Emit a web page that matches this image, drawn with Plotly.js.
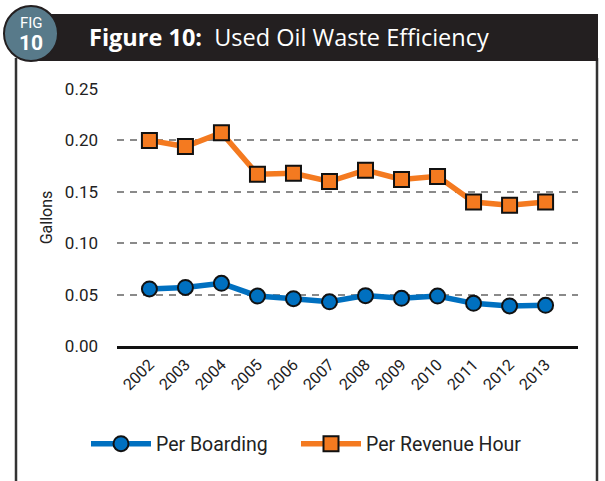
<!DOCTYPE html>
<html>
<head>
<meta charset="utf-8">
<script src="https://cdn.plot.ly/plotly-3.0.1.min.js"></script>
<style>
  body { margin: 0; background: #fff; }
  #chart { width: 605px; height: 481px; }
</style>
</head>
<body>
<div id="chart"></div>
<script>
// Chart data
const years = ['2002', '2003', '2004', '2005', '2006', '2007', '2008', '2009', '2010', '2011', '2012', '2013'];
const perBoarding = [0.0555, 0.057, 0.061, 0.0486, 0.046, 0.043, 0.049, 0.0464, 0.0486, 0.0415, 0.039, 0.0396];
const perRevenueHour = [0.200, 0.194, 0.2075, 0.167, 0.168, 0.160, 0.171, 0.162, 0.165, 0.140, 0.137, 0.140];
const yTicks = [0, 0.05, 0.10, 0.15, 0.20, 0.25];

// plot area in pixels
const L = 117, R = 578, T = 89, B = 346;
const px = x => (x - L) / (R - L);
const py = y => (B - y) / (B - T);

const font = 'Roboto, "DejaVu Sans", sans-serif';

const traces = [
    {
        x: years,
        y: perBoarding,
        name: 'Per Boarding',
        type: 'scatter',
        mode: 'lines+markers',
        line: { color: '#0070C0', width: 5.5 },
        marker: { symbol: 'circle', size: 15, color: '#0070C0', line: { color: '#111', width: 2 } },
        cliponaxis: false,
        legend: 'legend'
    },
    {
        x: years,
        y: perRevenueHour,
        name: 'Per Revenue Hour',
        type: 'scatter',
        mode: 'lines+markers',
        line: { color: '#F47A20', width: 5.5 },
        marker: { symbol: 'square', size: 15, color: '#F47A20', line: { color: '#111', width: 2 } },
        cliponaxis: false,
        legend: 'legend2'
    }
];

const shapes = [
    // frame
    { type: 'line', xref: 'paper', yref: 'paper', x0: px(16), x1: px(16), y0: py(58), y1: py(481),
      line: { color: '#333', width: 2.5 }, layer: 'below' },
    { type: 'line', xref: 'paper', yref: 'paper', x0: px(597), x1: px(597), y0: py(58), y1: py(481),
      line: { color: '#333', width: 2.5 }, layer: 'below' },
    // header bar
    { type: 'rect', xref: 'paper', yref: 'paper', x0: px(30), x1: px(598), y0: py(61), y1: py(14),
      fillcolor: '#231F20', line: { width: 0 }, layer: 'below' },
    // FIG badge
    { type: 'circle', xref: 'paper', yref: 'paper', x0: px(4), x1: px(58), y0: py(61), y1: py(6),
      fillcolor: '#587A8A', line: { color: '#231F20', width: 2 }, layer: 'below' }
];

const annotations = [
    { text: 'FIG', xref: 'paper', yref: 'paper', x: px(31), y: py(23), xanchor: 'center', yanchor: 'middle',
      showarrow: false, font: { family: font, size: 15, color: '#ffffff' } },
    { text: '<b>10</b>', xref: 'paper', yref: 'paper', x: px(31), y: py(43), xanchor: 'center', yanchor: 'middle',
      showarrow: false, font: { family: font, size: 21, color: '#ffffff' } },
    { text: '<b>Figure 10:</b>  Used Oil Waste Efficiency', xref: 'paper', yref: 'paper',
      x: px(87), y: py(37), xanchor: 'left', yanchor: 'middle', showarrow: false,
      font: { family: '"Open Sans", sans-serif', size: 23.5, color: '#ffffff' } }
];

const legendStyle = {
    orientation: 'h',
    y: py(444),
    xanchor: 'left', yanchor: 'middle',
    font: { family: font, size: 19.5, color: '#222' },
    itemwidth: 60,
    bgcolor: 'rgba(0,0,0,0)'
};

const layout = {
    width: 605,
    height: 481,
    margin: { l: L, r: 605 - R, t: T, b: 481 - B },
    paper_bgcolor: '#fff',
    plot_bgcolor: 'rgba(0,0,0,0)',
    showlegend: true,
    legend: Object.assign({}, legendStyle, { x: px(86) }),
    legend2: Object.assign({}, legendStyle, { x: px(296) }),
    xaxis: {
        type: 'category',
        tickangle: -45,
        showline: true,
        linecolor: '#111',
        linewidth: 3,
        showgrid: false,
        ticks: '',
        tickfont: { family: font, size: 16, color: '#222' }
    },
    yaxis: {
        range: [0, 0.25],
        tickvals: yTicks,
        tickformat: '.2f',
        showgrid: true,
        gridcolor: '#8a8a8a',
        gridwidth: 2,
        griddash: '7px,6px',
        zeroline: false,
        ticks: '',
        ticklabelstandoff: 18,
        tickfont: { family: font, size: 17, color: '#222' },
        title: { text: 'Gallons', standoff: 8, font: { family: font, size: 16, color: '#222' } }
    },
    shapes: shapes,
    annotations: annotations
};

Plotly.newPlot('chart', traces, layout, { displayModeBar: false, staticPlot: true });
</script>
</body>
</html>
